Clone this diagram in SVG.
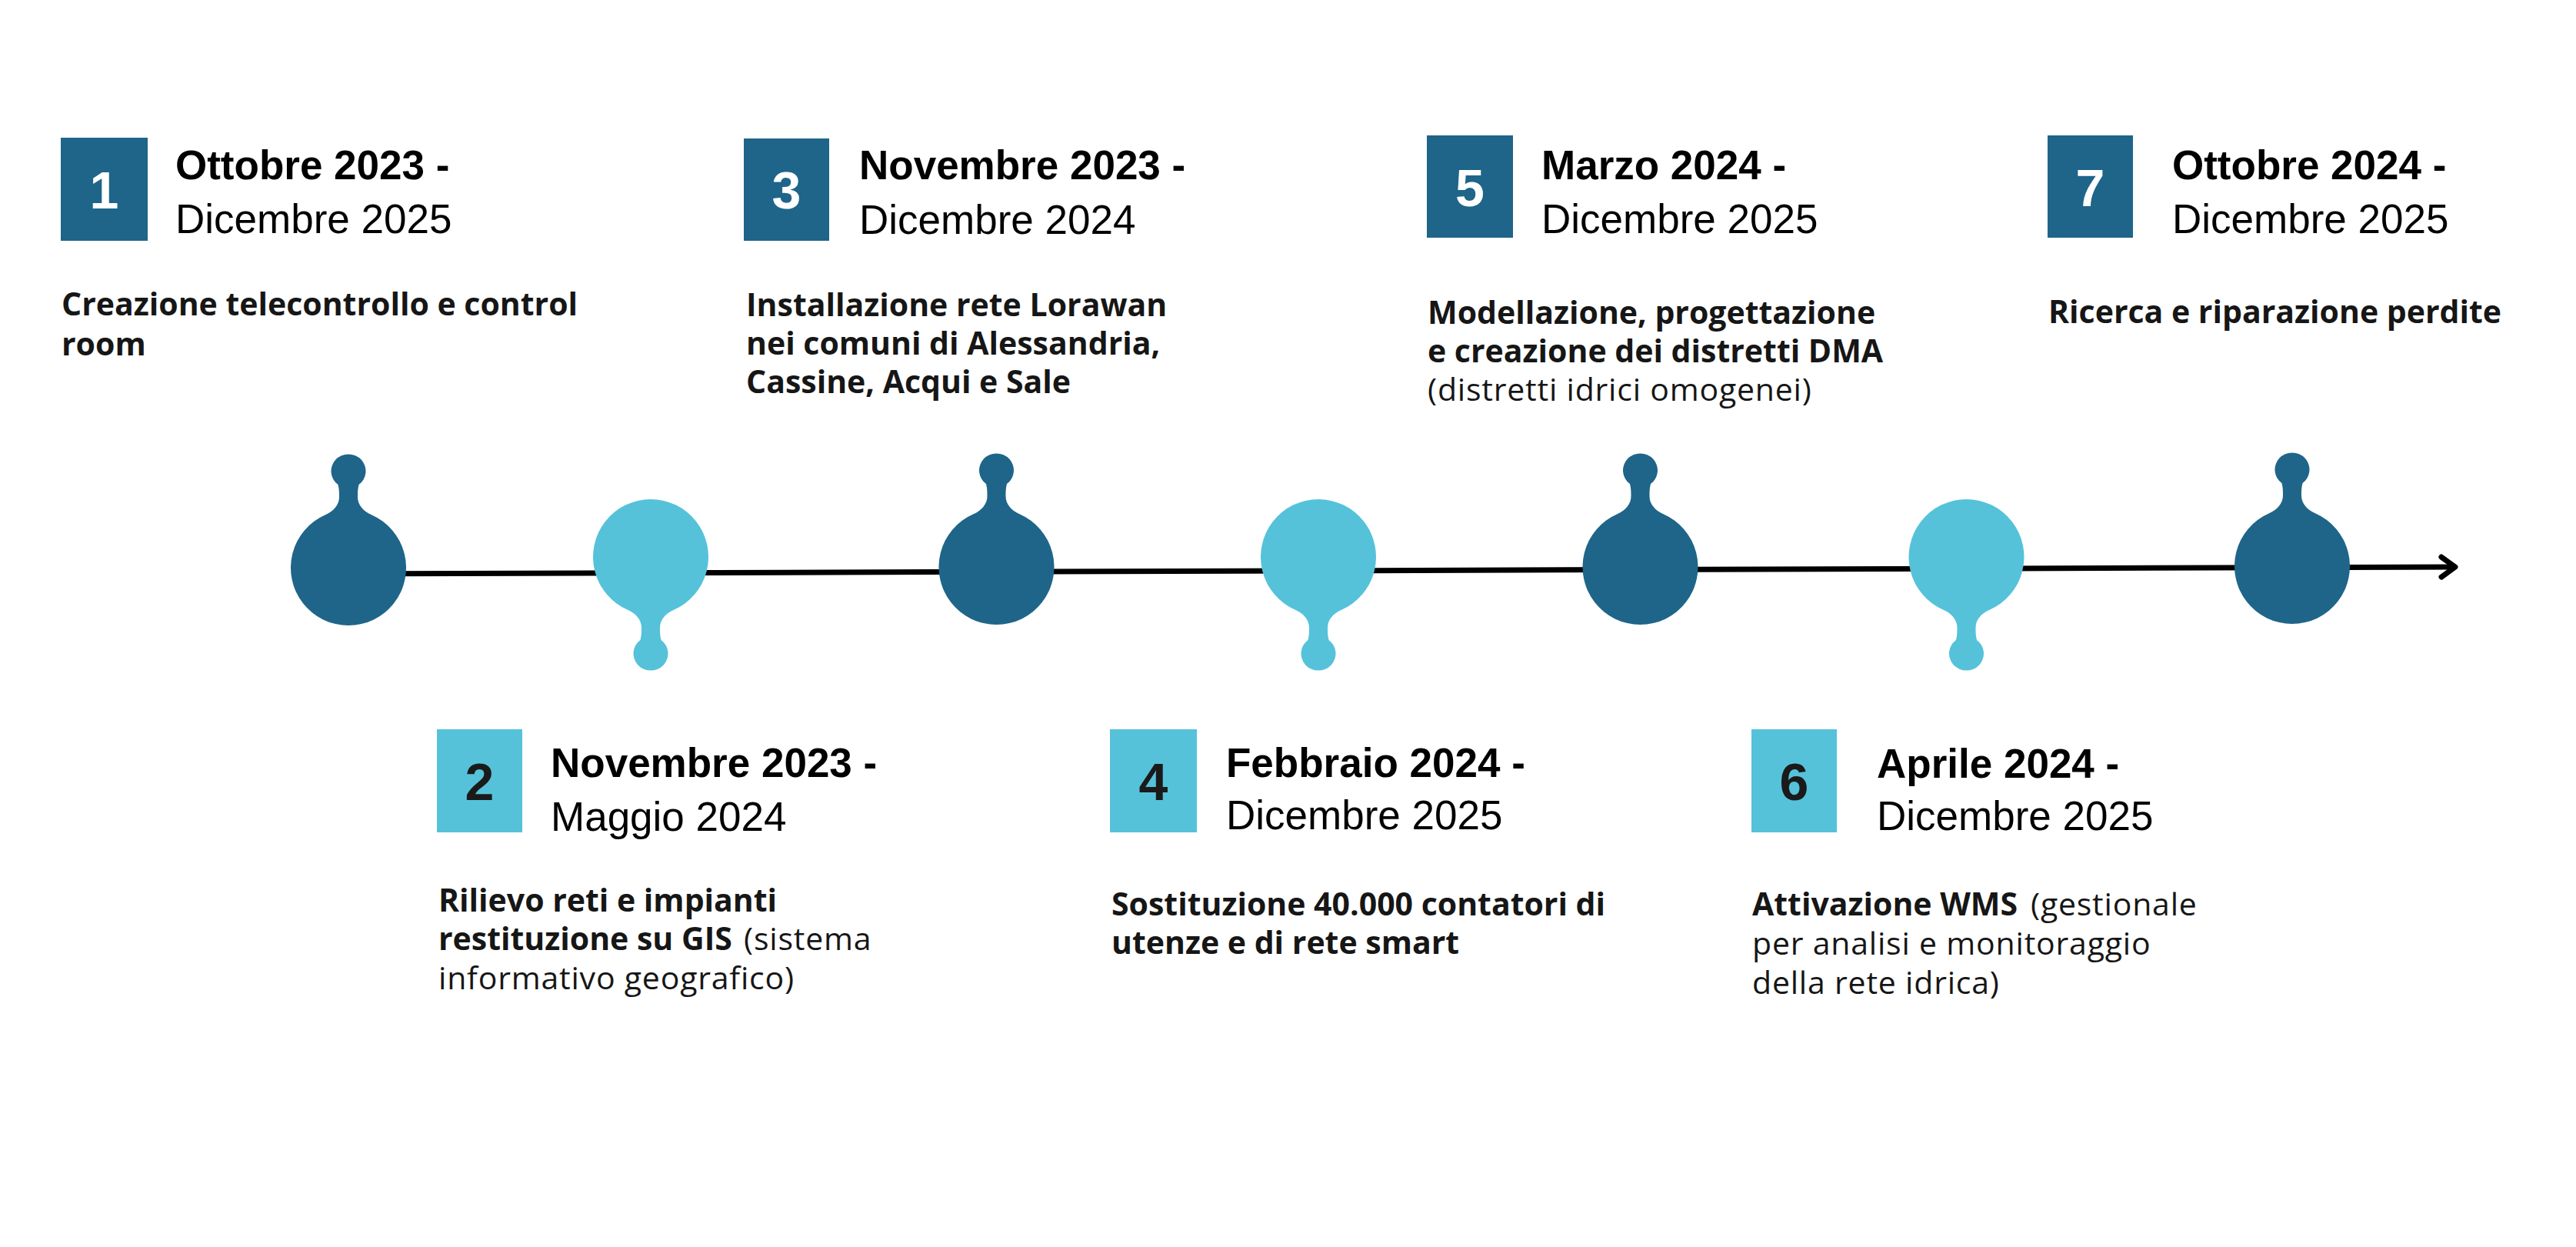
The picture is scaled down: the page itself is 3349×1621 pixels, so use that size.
<svg xmlns="http://www.w3.org/2000/svg" width="3349" height="1621" viewBox="0 0 3349 1621">
  <style>
    .dark { fill: #1e6589; }
    .light { fill: #55c2da; }
    .numw { font-family: "Liberation Sans", Arial, sans-serif; font-weight: 700; font-size: 68px; fill: #ffffff; text-anchor: middle; }
    .numd { font-family: "Liberation Sans", Arial, sans-serif; font-weight: 700; font-size: 68px; fill: #1a1a1a; text-anchor: middle; }
    .d1 { font-family: "Liberation Sans", Arial, sans-serif; font-weight: 700; font-size: 53px; fill: #000000; }
    .d2 { font-family: "Liberation Sans", Arial, sans-serif; font-weight: 400; font-size: 53px; fill: #000000; }
    .desc { font-family: "Open Sans", "Liberation Sans", sans-serif; font-size: 41px; fill: #161616; }
    .b { font-weight: 700; }
    .r { font-weight: 400; letter-spacing: 0.8px; }
    .tl { stroke: #000000; stroke-width: 7; fill: none; }
  </style>
  <defs>
    <path id="bulb" d="M 30,-68.7 A 75 75 0 1 1 -30,-68.7 C -19,-73.5 -12,-82 -12,-92 C -12,-98 -12,-102 -13.5,-108 A 22.5 22 0 1 1 13.5,-108 C 12,-102 12,-98 12,-92 C 12,-82 19,-73.5 30,-68.7 Z"/>
    <marker id="chev" markerUnits="userSpaceOnUse" viewBox="-26 -20 32 40" markerWidth="32" markerHeight="40" refX="0" refY="0" orient="auto">
      <path d="M -18,-13 L 0,0 L -18,13" fill="none" stroke="#000000" stroke-width="7" stroke-linecap="round" stroke-linejoin="round"/>
    </marker>
  </defs>
  <rect width="3349" height="1621" fill="#ffffff"/>

  <g id="connectors">
    <line class="tl" x1="453" y1="746" x2="3192" y2="737" marker-end="url(#chev)"/>
  </g>

  <g id="node1">
    <use href="#bulb" class="dark" transform="translate(453,738)"/>
    <rect class="dark" x="79" y="179" width="113" height="134"/>
    <text class="numw" x="135.5" y="271">1</text>
    <text class="d1" x="228" y="233">Ottobre 2023 -</text>
    <text class="d2" x="228" y="303">Dicembre 2025</text>
    <text class="desc b" x="80" y="410">Creazione telecontrollo e control</text>
    <text class="desc b" x="80" y="462">room</text>
  </g>

  <g id="node2">
    <use href="#bulb" class="light" transform="translate(846,724) scale(1,-1)"/>
    <rect class="light" x="568" y="948" width="111" height="134"/>
    <text class="numd" x="623.5" y="1040">2</text>
    <text class="d1" x="716" y="1010">Novembre 2023 -</text>
    <text class="d2" x="716" y="1080">Maggio 2024</text>
    <text class="desc b" x="570" y="1185">Rilievo reti e impianti</text>
    <text class="desc b" x="570" y="1235">restituzione su GIS</text>
    <text class="desc r" x="967" y="1235">(sistema</text>
    <text class="desc r" x="570" y="1286">informativo geografico)</text>
  </g>

  <g id="node3">
    <use href="#bulb" class="dark" transform="translate(1295.5,737)"/>
    <rect class="dark" x="967" y="180" width="111" height="133"/>
    <text class="numw" x="1022.5" y="271">3</text>
    <text class="d1" x="1117" y="233">Novembre 2023 -</text>
    <text class="d2" x="1117" y="304">Dicembre 2024</text>
    <text class="desc b" x="970" y="411">Installazione rete Lorawan</text>
    <text class="desc b" x="970" y="461">nei comuni di Alessandria,</text>
    <text class="desc b" x="970" y="511">Cassine, Acqui e Sale</text>
  </g>

  <g id="node4">
    <use href="#bulb" class="light" transform="translate(1714,724) scale(1,-1)"/>
    <rect class="light" x="1443" y="948" width="113" height="134"/>
    <text class="numd" x="1499.5" y="1040">4</text>
    <text class="d1" x="1594" y="1010">Febbraio 2024 -</text>
    <text class="d2" x="1594" y="1078">Dicembre 2025</text>
    <text class="desc b" x="1445" y="1190">Sostituzione 40.000 contatori di</text>
    <text class="desc b" x="1445" y="1240">utenze e di rete smart</text>
  </g>

  <g id="node5">
    <use href="#bulb" class="dark" transform="translate(2132.5,737)"/>
    <rect class="dark" x="1855" y="176" width="112" height="133"/>
    <text class="numw" x="1911" y="268">5</text>
    <text class="d1" x="2004" y="233">Marzo 2024 -</text>
    <text class="d2" x="2004" y="303">Dicembre 2025</text>
    <text class="desc b" x="1856" y="421">Modellazione, progettazione</text>
    <text class="desc b" x="1856" y="471">e creazione dei distretti DMA</text>
    <text class="desc r" x="1856" y="521">(distretti idrici omogenei)</text>
  </g>

  <g id="node6">
    <use href="#bulb" class="light" transform="translate(2556.5,724) scale(1,-1)"/>
    <rect class="light" x="2277" y="948" width="111" height="134"/>
    <text class="numd" x="2332.5" y="1040">6</text>
    <text class="d1" x="2440" y="1011">Aprile 2024 -</text>
    <text class="d2" x="2440" y="1079">Dicembre 2025</text>
    <text class="desc b" x="2278" y="1190">Attivazione WMS</text>
    <text class="desc r" x="2640" y="1190">(gestionale</text>
    <text class="desc r" x="2278" y="1241">per analisi e monitoraggio</text>
    <text class="desc r" x="2278" y="1292">della rete idrica)</text>
  </g>

  <g id="node7">
    <use href="#bulb" class="dark" transform="translate(2980,736)"/>
    <rect class="dark" x="2662" y="176" width="111" height="133"/>
    <text class="numw" x="2717.5" y="268">7</text>
    <text class="d1" x="2824" y="233">Ottobre 2024 -</text>
    <text class="d2" x="2824" y="303">Dicembre 2025</text>
    <text class="desc b" x="2663" y="420">Ricerca e riparazione perdite</text>
  </g>
</svg>
